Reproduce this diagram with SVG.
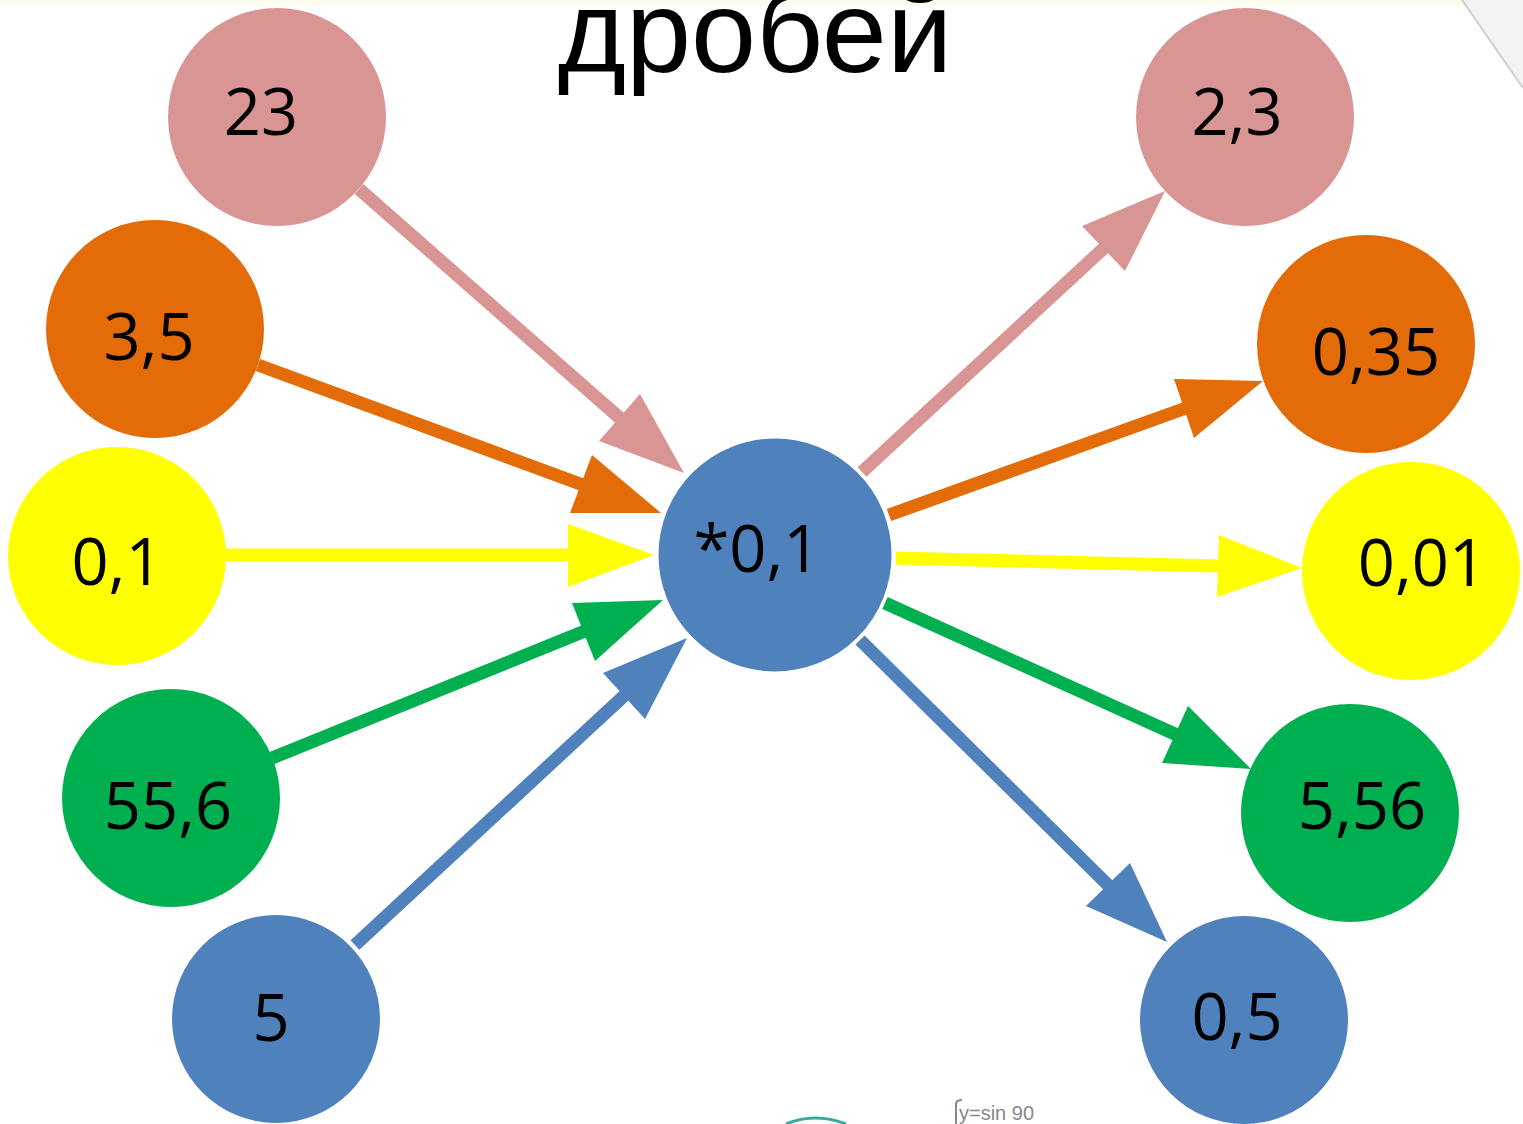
<svg xmlns="http://www.w3.org/2000/svg" width="1523" height="1124" viewBox="0 0 1523 1124">
<style>
.lbl{font-family:"Open Sans","Noto Sans",sans-serif;font-size:65px;fill:#000;text-anchor:middle}
.title{font-family:"Liberation Sans",Arial,sans-serif;font-size:117px;fill:#000;text-anchor:middle}
.sh{stroke-width:13;fill:none;stroke-linecap:butt}
.pink{fill:#D99594}.orange{fill:#E36C09}.yellow{fill:#FFFF00}.green{fill:#00B050}.blue{fill:#4F81BD}
.spink{stroke:#D99594}.sorange{stroke:#E36C09}.syellow{stroke:#FFFF00}.sgreen{stroke:#00B050}.sblue{stroke:#4F81BD}
</style>
<rect width="1523" height="1124" fill="#ffffff"/>
<rect width="1523" height="6" fill="#fdfdee"/>
<!-- background artifacts -->
<polygon points="1462,0 1523,0 1523,88" fill="#f3f3f3"/>
<polyline points="1462,0 1523,88" stroke="#cfcfcf" stroke-width="2" fill="none"/>
<path d="M786,1124 Q815,1112 846,1124" stroke="#3aa6a0" stroke-width="3" fill="none"/>
<path d="M956,1124 L956,1104 Q956,1100 962,1100" stroke="#888" stroke-width="2" fill="none"/>
<text x="959" y="1120" font-family="'Liberation Sans Narrow','Liberation Sans',sans-serif" font-size="20" fill="#888">y=sin 90</text>

<text class="title" x="755" y="72">дробей</text>

<g id="connectors">
  <line class="sh spink" x1="359" y1="189" x2="622" y2="420"/>
  <polygon class="pink" points="640,394 599,441 684,473"/>
  <line class="sh sorange" x1="258" y1="365" x2="583" y2="485"/>
  <polygon class="orange" points="592,455 570,513 661,513"/>
  <line class="sh syellow" x1="226" y1="555" x2="570" y2="555"/>
  <polygon class="yellow" points="568,524 568,587 654,555"/>
  <line class="sh sgreen" x1="272" y1="758" x2="585" y2="631"/>
  <polygon class="green" points="572,603 595,661 663,600"/>
  <line class="sh sblue" x1="355" y1="945" x2="626" y2="694"/>
  <polygon class="blue" points="603,673 645,719 687,638"/>

  <line class="sh spink" x1="862" y1="472" x2="1105" y2="247"/>
  <polygon class="pink" points="1082,226 1125,271 1165,191"/>
  <line class="sh sorange" x1="889" y1="515" x2="1186" y2="408"/>
  <polygon class="orange" points="1174,379 1194,438 1263,381"/>
  <line class="sh syellow" x1="896" y1="558" x2="1220" y2="566"/>
  <polygon class="yellow" points="1219,535 1217,597 1302,568"/>
  <line class="sh sgreen" x1="885" y1="603" x2="1177" y2="735"/>
  <polygon class="green" points="1188,706 1162,763 1251,769"/>
  <line class="sh sblue" x1="860" y1="640" x2="1110" y2="887"/>
  <polygon class="blue" points="1130,863 1086,906 1167,942"/>
</g>

<g id="n23"><circle class="pink" cx="277" cy="117" r="109"/><text class="lbl" x="261" y="135">23</text></g>
<g id="n35"><circle class="orange" cx="155" cy="329" r="109"/><text class="lbl" x="149" y="360">3,5</text></g>
<g id="n01"><circle class="yellow" cx="117" cy="556" r="109"/><text class="lbl" x="117" y="585">0,1</text></g>
<g id="n556"><circle class="green" cx="171" cy="798" r="109"/><text class="lbl" x="168" y="829">55,6</text></g>
<g id="n5"><circle class="blue" cx="276" cy="1019" r="104"/><text class="lbl" x="271" y="1041">5</text></g>

<g id="center"><circle class="blue" cx="775" cy="555" r="118" stroke="#ffffff" stroke-width="3"/><text class="lbl" x="757" y="572">*0,1</text></g>

<g id="r23"><circle class="pink" cx="1245" cy="117" r="109"/><text class="lbl" x="1237" y="135">2,3</text></g>
<g id="r035"><circle class="orange" cx="1366" cy="344" r="109"/><text class="lbl" x="1376" y="375">0,35</text></g>
<g id="r001"><circle class="yellow" cx="1411" cy="571" r="109"/><text class="lbl" x="1422" y="586">0,01</text></g>
<g id="r556"><circle class="green" cx="1350" cy="813" r="109"/><text class="lbl" x="1362" y="829">5,56</text></g>
<g id="r05"><circle class="blue" cx="1244" cy="1020" r="104"/><text class="lbl" x="1237" y="1040">0,5</text></g>
</svg>
